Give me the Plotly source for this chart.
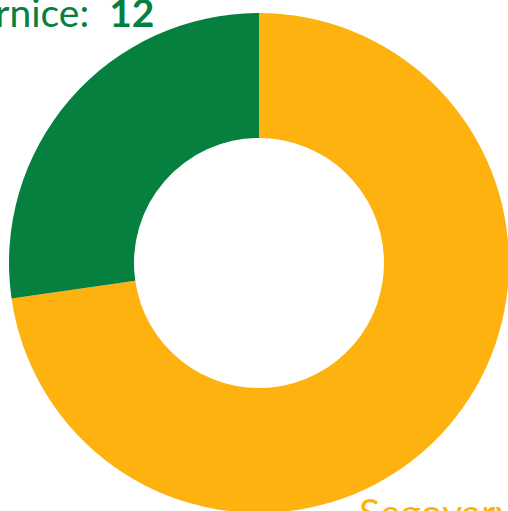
import plotly.graph_objects as go

labels = ["Segovary", "Černice"]
values = [32, 12]
colors = ["#FDB20F", "#06803F"]

fig = go.Figure(go.Pie(
    labels=labels, values=values, hole=0.5, sort=False,
    direction="clockwise", rotation=0,
    marker=dict(colors=colors, line=dict(width=0)),
    textinfo="none", hoverinfo="label+value", showlegend=False,
))

ann_pos = [(0.6956, 0.0024, "left"), (0.2946, 1.0014, "right")]
for lab, val, col, (x, y, xa) in zip(labels, values, colors, ann_pos):
    fig.add_annotation(x=x, y=y, xref="paper", yref="paper", xanchor=xa, yanchor="middle",
                       text=f"{lab}:\u00a0 <b>{val}</b>", showarrow=False,
                       font=dict(family="Lato", size=39, color=col))

fig.update_layout(width=510, height=513, margin=dict(l=9, r=1, t=13, b=0),
                  paper_bgcolor="white", plot_bgcolor="white")
fig.write_html("out.html", config={"displayModeBar": False},
               post_script="document.body.style.margin='0';document.body.style.overflow='hidden';")
